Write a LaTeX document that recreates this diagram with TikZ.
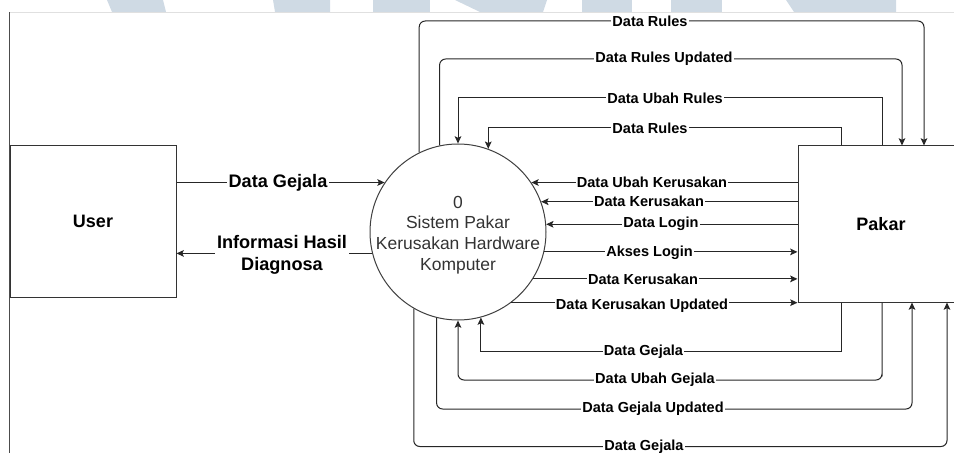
\documentclass[tikz,border=0pt]{standalone}
\usepackage{fontspec}
\setmainfont{Liberation Sans}
\usetikzlibrary{arrows.meta}
\definecolor{wmark}{RGB}{207,218,228}
\definecolor{inkgray}{RGB}{51,51,51}

\begin{document}
\begin{tikzpicture}[x=0.75pt,y=-0.75pt,line width=0.75pt,
  flow/.style={draw=black!85,-{Stealth[length=5.5pt,width=5pt,inset=1.2pt]}},
  roundbend/.style={rounded corners=4.5pt},
  lbl/.style={fill=white,inner sep=1pt,font=\bfseries\fontsize{10.9}{12}\selectfont},
  biglbl/.style={fill=white,inner sep=1.5pt,align=center,font=\bfseries\fontsize{13.6}{16.4}\selectfont},
  entity/.style={draw=black!80,minimum width=124.5pt,inner sep=0pt,font=\bfseries\fontsize{13.5}{16}\selectfont},
  process/.style={circle,draw=black!75,minimum size=132pt,inner sep=0pt}]
\useasboundingbox (0,0) rectangle (954,453);
\begin{scope}
\clip (0,0) rectangle (954,453);

% watermark strip and page frame
\fill[wmark] (107,0) -- (163,0) -- (166,12) -- (112,12) -- cycle;
\fill[wmark] (273,0) -- (330,0) -- (330,12) -- (275,12) -- cycle;
\fill[wmark] (373,0) -- (430,0) -- (430,12) -- (373,12) -- cycle;
\fill[wmark] (455,0) -- (547,0) -- (543,12) -- (480,12) -- cycle;
\fill[wmark] (582,0) -- (632,0) -- (632,12) -- (582,12) -- cycle;
\fill[wmark] (671,0) -- (722,0) -- (722,12) -- (671,12) -- cycle;
\fill[wmark] (786,0) -- (896,0) -- (896,12) -- (794,12) -- cycle;
\draw[black!12] (9,12.5) -- (954,12.5);
\draw[black!70] (9,12.5) -- (9,453);

% entities and process
\node[entity,minimum height=113.25pt] (user) at (93,221.5) {User};
\node[entity,minimum height=117pt] (pakar) at (881,224) {Pakar};
\node[process] (sys) at (458,232) {};
\node[align=center,text=inkgray,font=\fontsize{13.1}{15.5}\selectfont] (systext) at (458,235)
  {0\\Sistem Pakar\\Kerusakan Hardware\\Komputer};

% user flows
\draw[flow] (user.east |- sys.146.2) -- (sys.146.2);
\node[biglbl] (lgej) at (278,183) {Data Gejala};
\draw[flow] (sys.194.5) -- (user.east |- sys.194.5);
\node[biglbl] (linfo) at (282,255) {Informasi Hasil\\Diagnosa};

% straight flows between process and Pakar
\draw[flow] (pakar.west |- sys.34.6) -- (sys.34.6);
\node[lbl] at (652,182) {Data Ubah Kerusakan};
\draw[flow] (pakar.west |- sys.20.6) -- (sys.20.6);
\node[lbl] at (649,201) {Data Kerusakan};
\draw[flow] (pakar.west |- sys.5.2) -- (sys.5.2);
\node[lbl] at (661,224) {Data Login};
\draw[flow] (sys.-13.8) -- (pakar.west |- sys.-13.8);
\node[lbl] at (649.5,253) {Akses Login};
\draw[flow] (sys.-32.3) -- (pakar.west |- sys.-32.3);
\node[lbl] at (643,279) {Data Kerusakan};
\draw[flow] (sys.-53.8) -- (pakar.west |- sys.-53.8);
\node[lbl] at (642,305.5) {Data Kerusakan Updated};

% loops over the top
\coordinate (t1) at (924,21);
\coordinate (t2) at (902,59);
\coordinate (t3) at (882,98);
\coordinate (t4) at (841.5,128);
\draw[flow,roundbend] (sys.116) |- (t1) -- (t1 |- pakar.north);
\node[lbl] at (650,21) {Data Rules};
\draw[flow,roundbend] (sys.102.5) |- (t2) -- (t2 |- pakar.north);
\node[lbl] at (664,59) {Data Rules Updated};
\draw[flow] (t3 |- pakar.north) -- (t3) -| (sys.north);
\node[lbl] at (665,98) {Data Ubah Rules};
\draw[flow] (t4 |- pakar.north) -- (t4) -| (sys.70.8);
\node[lbl] at (650,128) {Data Rules};

% loops underneath
\coordinate (b1) at (841.5,351);
\coordinate (b2) at (882,380);
\coordinate (b3) at (912,409);
\coordinate (b4) at (947,446.5);
\draw[flow] (b1 |- pakar.south) -- (b1) -| (sys.285.8);
\node[lbl] at (643.5,352) {Data Gejala};
\draw[flow,roundbend] (b2 |- pakar.south) |- (b2) -| (sys.south);
\node[lbl] at (655,380) {Data Ubah Gejala};
\draw[flow,roundbend] (sys.256.9) |- (b3) -- (b3 |- pakar.south);
\node[lbl] at (653,409) {Data Gejala Updated};
\draw[flow,roundbend] (sys.240.8) |- (b4) -- (b4 |- pakar.south);
\node[lbl] at (644,447) {Data Gejala};
\end{scope}
\end{tikzpicture}
\end{document}
